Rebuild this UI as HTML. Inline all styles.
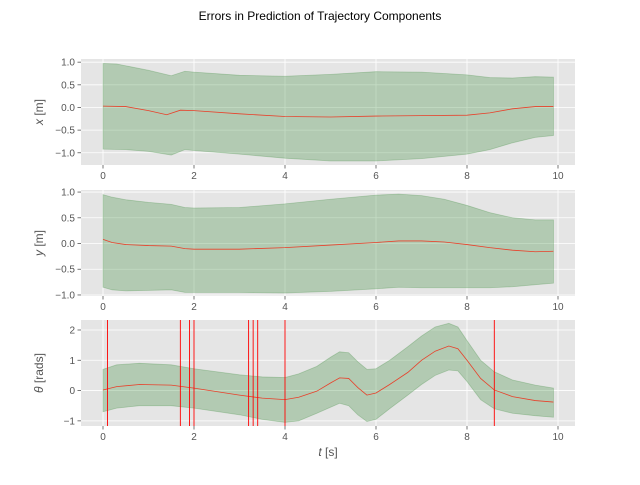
<!DOCTYPE html>
<html><head><meta charset="utf-8"><style>
body{margin:0;background:#fff}
svg text{font-family:"Liberation Sans","DejaVu Sans",sans-serif;fill:#555}
</style></head><body>
<svg id="fig" width="640" height="480" viewBox="0 0 640 480">
<text x="320" y="20" text-anchor="middle" font-size="12" style="fill:#000">Errors in Prediction of Trajectory Components</text>
</svg>
<script>
const tX=[0,0.5,1,1.4,1.7,2,3,4,5,6,7,8,8.5,9,9.5,9.9];
const meanX=[0.03,0.02,-0.07,-0.16,-0.06,-0.07,-0.14,-0.2,-0.21,-0.19,-0.18,-0.17,-0.12,-0.03,0.02,0.02];
const tXb=[0,0.3,1,1.5,1.8,2,3,4,5,6,7,8,8.5,9,9.5,9.9];
const upX=[0.97,0.96,0.82,0.7,0.8,0.78,0.71,0.69,0.73,0.79,0.78,0.72,0.66,0.65,0.68,0.67];
const tXl=[0,0.5,1,1.5,1.8,2,3,4,5,6,7,8,8.5,9,9.5,9.9];
const loX=[-0.92,-0.93,-0.97,-1.05,-0.93,-0.95,-1.03,-1.12,-1.18,-1.18,-1.13,-1.03,-0.93,-0.78,-0.66,-0.62];

const tY=[0,0.2,0.5,1,1.5,1.8,2,3,4,5,6,6.5,7,7.5,8,8.5,9,9.5,9.9];
const meanY=[0.08,0.02,-0.02,-0.04,-0.05,-0.1,-0.11,-0.11,-0.08,-0.03,0.02,0.05,0.05,0.03,-0.02,-0.08,-0.13,-0.16,-0.15];
const upY=[0.95,0.9,0.85,0.8,0.76,0.7,0.69,0.7,0.77,0.86,0.94,0.96,0.93,0.86,0.74,0.6,0.5,0.46,0.46];
const loY=[-0.85,-0.9,-0.92,-0.91,-0.9,-0.95,-0.95,-0.95,-0.96,-0.93,-0.88,-0.85,-0.86,-0.86,-0.86,-0.86,-0.84,-0.8,-0.77];

const tT=[0,0.3,0.8,1.5,2,3,3.5,4,4.3,4.7,5,5.2,5.4,5.6,5.8,6,6.3,6.7,7,7.3,7.6,7.8,8,8.3,8.6,9,9.5,9.9];
const meanT=[0.02,0.13,0.2,0.18,0.08,-0.15,-0.25,-0.3,-0.22,-0.02,0.25,0.42,0.4,0.1,-0.15,-0.08,0.2,0.6,1.0,1.3,1.47,1.38,1.0,0.4,0.02,-0.2,-0.33,-0.38];
const upT=[0.7,0.85,0.9,0.85,0.72,0.52,0.45,0.43,0.55,0.8,1.1,1.28,1.25,0.95,0.7,0.72,1.0,1.45,1.8,2.1,2.22,2.1,1.65,1.0,0.62,0.35,0.18,0.08];
const loT=[-0.7,-0.58,-0.5,-0.5,-0.58,-0.8,-0.95,-1.05,-1.0,-0.75,-0.55,-0.42,-0.5,-0.8,-1.02,-0.95,-0.6,-0.15,0.2,0.5,0.68,0.65,0.3,-0.3,-0.6,-0.75,-0.83,-0.88];
const vlines=[0.1,1.7,1.9,2.0,3.2,3.3,3.4,4.0,8.6];

const xTicks=[0,2,4,6,8,10];
const NS='http://www.w3.org/2000/svg';
const svg=document.getElementById('fig');
function mk(tag,attrs,parent){const e=document.createElementNS(NS,tag);for(const k in attrs)e.setAttribute(k,attrs[k]);(parent||svg).appendChild(e);return e;}
const L=81,R=575;
const sx=t=>103+(t-0)*(558-103)/10;

function panel(name,top,bot,ymin,ymax,yticks,ylab,series,vl,xlab){
  const g=mk('g',{});
  
  
  const sy=v=>bot-(v-ymin)*(bot-top)/(ymax-ymin);
  const bg=mk('rect',{x:L,y:top,width:R-L,height:bot-top,fill:'#e5e5e5'},g);
  
  
  xTicks.forEach(t=>{
    mk('line',{x1:sx(t),x2:sx(t),y1:top,y2:bot,stroke:'#fff','stroke-width':0.8},g);
    mk('line',{x1:sx(t),x2:sx(t),y1:bot,y2:bot+3.5,stroke:'#555','stroke-width':0.8},g);
    const tx=mk('text',{x:sx(t),y:bot+14,'text-anchor':'middle','font-size':10},g);
    tx.textContent=t;
    
    
  });
  yticks.forEach(v=>{
    mk('line',{x1:L,x2:R,y1:sy(v),y2:sy(v),stroke:'#fff','stroke-width':0.8},g);
    mk('line',{x1:L-3.5,x2:L,y1:sy(v),y2:sy(v),stroke:'#555','stroke-width':0.8},g);
    const tx=mk('text',{x:L-6,y:sy(v)+3.5,'text-anchor':'end','font-size':10},g);
    tx.textContent=(v<0?'\u2212':'')+Math.abs(v).toFixed(series.dec);
    
    
  });
  let d='';
  series.tu.forEach((t,i)=>{d+=(i?'L':'M')+sx(t)+','+sy(series.up[i]);});
  for(let i=series.tl.length-1;i>=0;i--)d+='L'+sx(series.tl[i])+','+sy(series.lo[i]);
  const band=mk('path',{d:d+'Z',fill:'rgba(60,140,60,0.3)',stroke:'rgba(60,140,60,0.3)','stroke-width':0.8},g);
  
  
  const pts=series.tm.map((t,i)=>sx(t)+','+sy(series.mean[i])).join(' ');
  const ln=mk('polyline',{points:pts,fill:'none',stroke:'#e8402a','stroke-width':0.8},g);
  
  
  (vl||[]).forEach(t=>{
    const v=mk('line',{x1:sx(t),x2:sx(t),y1:top,y2:bot,stroke:'#ff0000','stroke-width':0.9},g);
    
    
  });
  const yl=mk('text',{x:0,y:0,'text-anchor':'middle','font-size':12,transform:`translate(${L-38},${(top+bot)/2}) rotate(-90)`},g);
  yl.innerHTML=ylab;
  
  
  if(xlab){
    const xl=mk('text',{x:(L+R)/2,y:bot+30,'text-anchor':'middle','font-size':12},g);
    xl.innerHTML=xlab;
    
    
  }
}
panel('x',59,165,-1.27,1.07,[-1,-0.5,0,0.5,1],'<tspan font-style="italic">x</tspan> [m]',{tm:tX,mean:meanX,tu:tXb,up:upX,tl:tXl,lo:loX,dec:1});
panel('y',190,296,-1.02,1.04,[-1,-0.5,0,0.5,1],'<tspan font-style="italic">y</tspan> [m]',{tm:tY,mean:meanY,tu:tY,up:upY,tl:tY,lo:loY,dec:1});
panel('theta',320,426,-1.17,2.33,[-1,0,1,2],'<tspan font-style="italic">θ</tspan> [rads]',{tm:tT,mean:meanT,tu:tT,up:upT,tl:tT,lo:loT,dec:0},vlines,'<tspan font-style="italic">t</tspan> [s]');
</script>
</body></html>
